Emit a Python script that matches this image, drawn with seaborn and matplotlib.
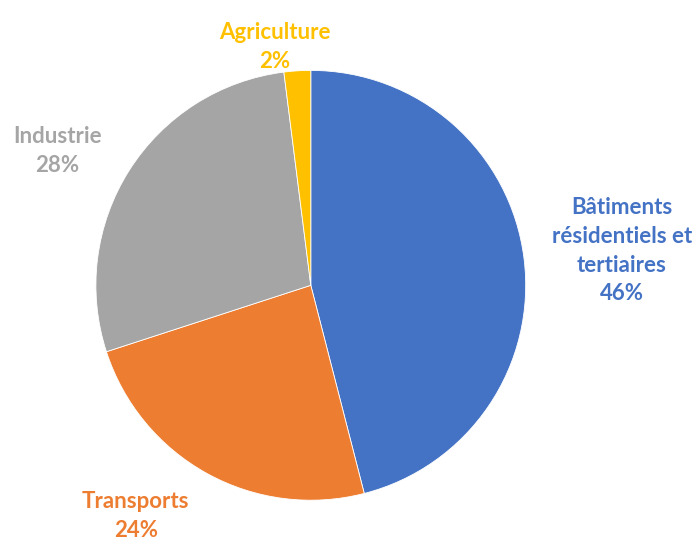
import matplotlib
matplotlib.use("Agg")
import matplotlib.pyplot as plt
import seaborn as sns

# ---- data ----
sectors = ["Bâtiments\nrésidentiels et\ntertiaires", "Transports", "Industrie", "Agriculture"]
shares = [46, 24, 28, 2]
colors = ["#4472C4", "#ED7D31", "#A5A5A5", "#FFC000"]

# label anchor positions (data units, pie radius = 1)
label_pos = [(1.447, 0.16), (-0.814, -1.075), (-1.18, 0.625), (-0.167, 1.11)]

sns.set_theme(style="white")
plt.rcParams["font.family"] = ["Lato", "DejaVu Sans"]

fig = plt.figure(figsize=(7, 5.45), dpi=100)
ax = fig.add_axes([0.137, 0.082, 0.614, 0.789])

wedges, _ = ax.pie(
    shares,
    colors=colors,
    startangle=90,
    counterclock=False,
    radius=1,
    wedgeprops=dict(linewidth=0.6, edgecolor="white"),
)

# bold labels in the slice colour: name on top, share below
for name, val, col, (x, y) in zip(sectors, shares, colors, label_pos):
    ax.text(x, y, f"{name}\n{val}%", ha="center", va="center",
            color=col, fontsize=16, fontweight="bold", linespacing=1.45)

ax.set_xlim(-1, 1)
ax.set_ylim(-1, 1)
ax.set_aspect("equal")
ax.axis("off")

fig.savefig("out.png", dpi=100)
